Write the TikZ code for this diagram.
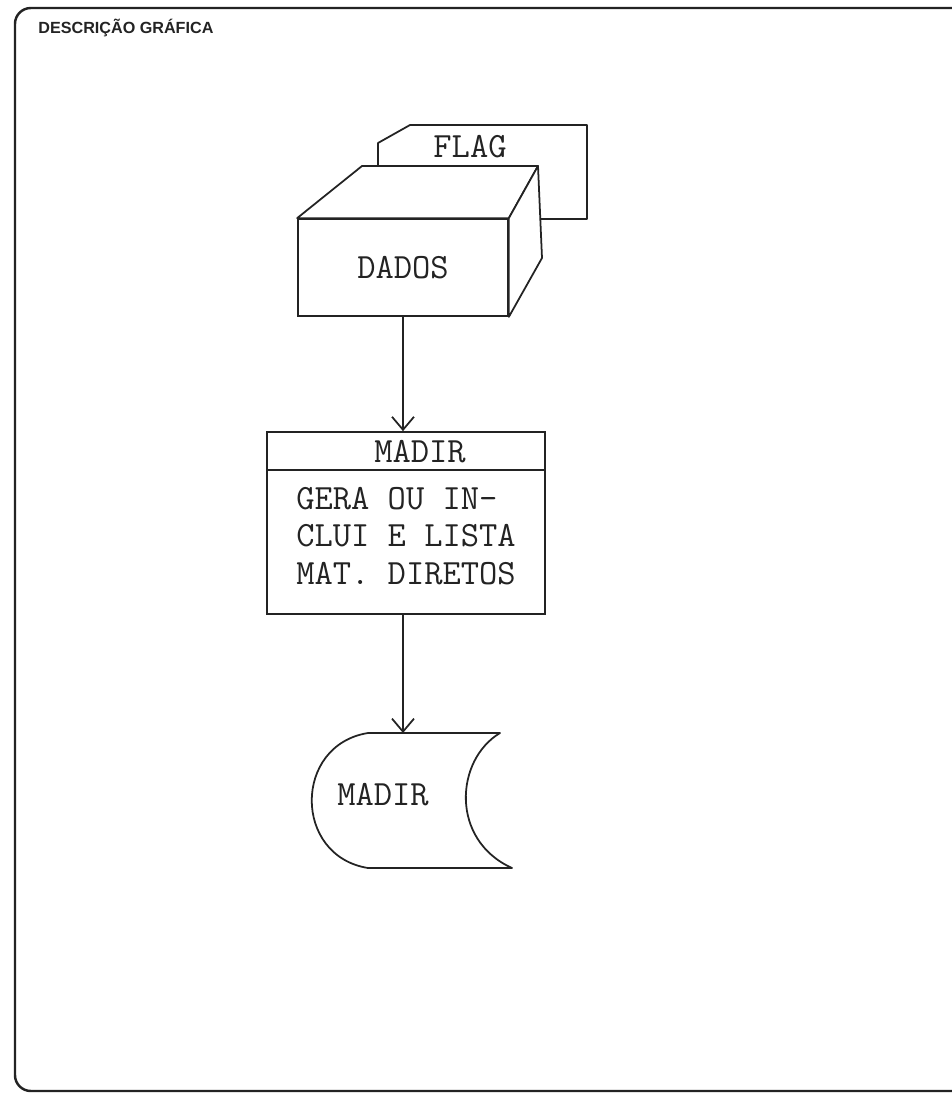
\documentclass[tikz,border=0pt]{standalone}
\usepackage{fontspec}
\usepackage{tikz}
\usetikzlibrary{arrows.meta, positioning, calc}
\newfontfamily\rotulo{Liberation Sans}
\definecolor{tinta}{RGB}{35,35,35}
\definecolor{papel}{RGB}{255,255,255}
\tikzset{
  caixa/.style={rectangle, draw=tinta, fill=papel, inner sep=0pt,
    line width=1pt},
  face/.style={draw=tinta, fill=papel, line width=1pt, line join=round},
  texto/.style={font=\ttfamily\fontsize{20.2}{21.3}\selectfont, text=tinta,
    inner sep=0pt},
  seta/.style={-{Straight Barb[length=2.6mm, width=4.4mm]}, line width=1pt,
    color=tinta},
  moldura/.style={draw=tinta, line width=1.4pt, rounded corners=9pt}
}

\begin{document}
\begin{tikzpicture}[x=0.02cm, y=-0.02cm]
  \useasboundingbox (0,0) rectangle (952,1093);
  \draw[moldura] (952,8) -- (15,8) -- (15,1091) -- (952,1091);
  \node[anchor=west, inner sep=0pt, text=tinta,
    font=\rotulo\bfseries\fontsize{9.2}{10}\selectfont] (titulo) at (38,28)
    {DESCRIÇÃO GRÁFICA};

  % cartao de controle atras dos dados
  \draw[face] (378,143) -- (410,125) -- (587,125) -- (587,219)
    -- (378,219) -- cycle;
  \node[texto] (flag) at (470,147) {FLAG};

  % bloco de dados em perspectiva
  \node[caixa, minimum width=4.2cm, minimum height=1.94cm] (dados)
    at (403,267.5) {};
  \draw[face] (dados.north west) -- (362,166) -- (538,166)
    -- (dados.north east) -- cycle;
  \draw[face] (dados.north east) -- (538,166) -- (542,258)
    -- (dados.south east) -- cycle;
  \node[texto] (dadostxt) at (dados.center) {DADOS};

  % programa
  \node[caixa, minimum width=5.56cm, minimum height=3.64cm] (madir)
    at (406,523) {};
  \draw[line width=1pt, color=tinta] (madir.north west) ++(0,39) -- ++(278,0);
  \node[texto] (madircab) at (420,452) {MADIR};
  \node[texto, anchor=west, align=left] (madircorpo) at (296,536)
    {GERA OU IN-\\CLUI E LISTA\\MAT. DIRETOS};

  % saida em video
  \coordinate (saida) at (403,733);
  \draw[face] (368,733) -- (500,733)
    .. controls (455,760) and (450,840) .. (512,868)
    -- (368,868) .. controls (293,856) and (293,745) .. cycle;
  \node[texto] (madirsai) at (383,795) {MADIR};

  \draw[seta] (dados.south) -- (dados.south |- madir.north);
  \draw[seta] (madir.south -| saida) -- (saida);
\end{tikzpicture}
\end{document}
